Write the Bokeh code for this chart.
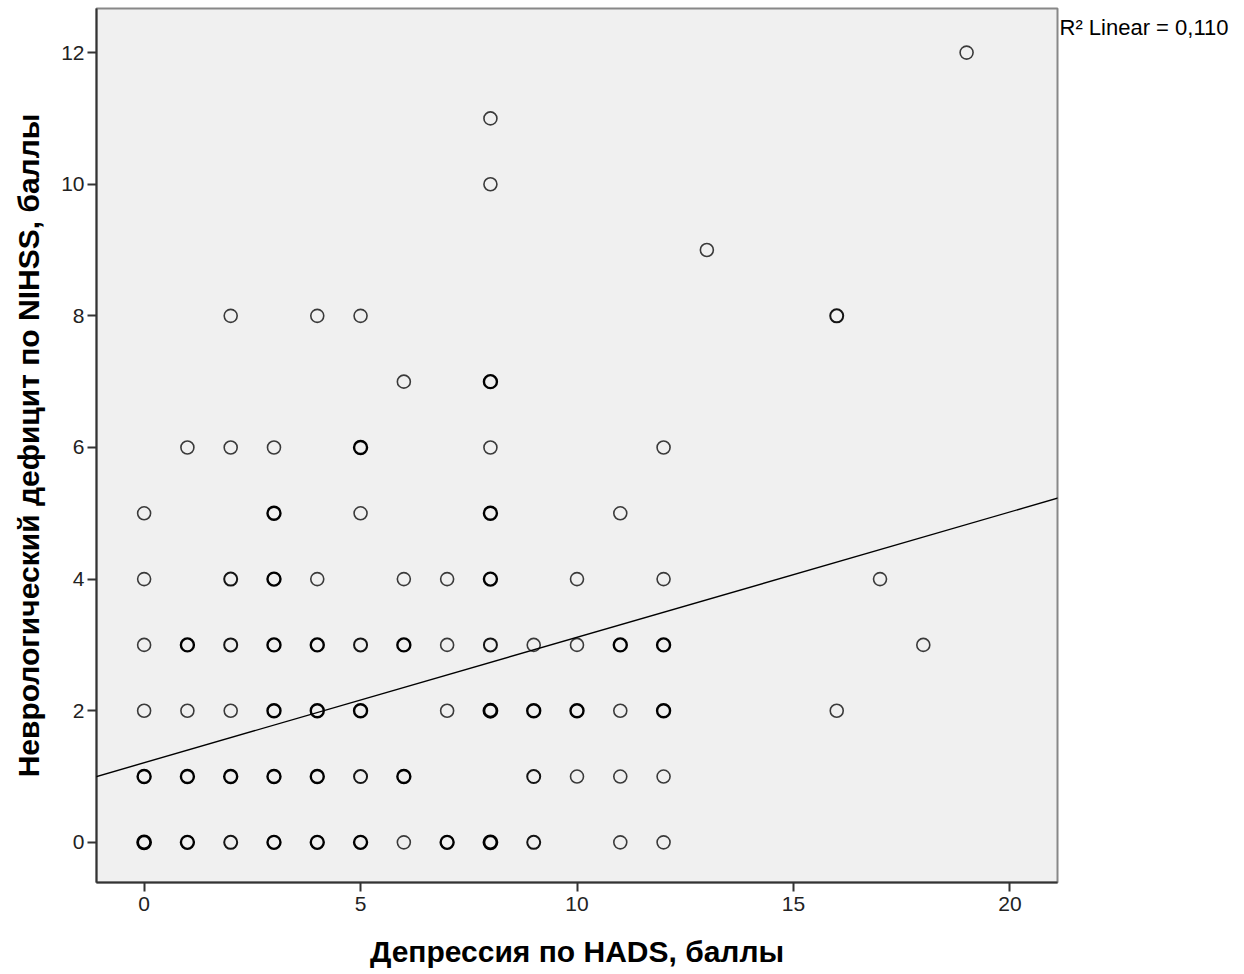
from bokeh.plotting import figure
from bokeh.models import Range1d, Label, Slope, ColumnDataSource
from bokeh.embed import file_html
from bokeh.resources import INLINE

# ---- data (count = overlapping cases, estimated from darkness)
hads = [0, 0, 0, 0, 0, 0,
        1, 1, 1, 1, 1,
        2, 2, 2, 2, 2, 2, 2,
        3, 3, 3, 3, 3, 3, 3,
        4, 4, 4, 4, 4, 4,
        5, 5, 5, 5, 5, 5, 5,
        6, 6, 6, 6, 6,
        7, 7, 7, 7,
        8, 8, 8, 8, 8, 8, 8, 8, 8,
        9, 9, 9, 9,
        10, 10, 10, 10,
        11, 11, 11, 11, 11,
        12, 12, 12, 12, 12, 12,
        13, 16, 16, 17, 18, 19]
nihss = [0, 1, 2, 3, 4, 5,
         0, 1, 2, 3, 6,
         0, 1, 2, 3, 4, 6, 8,
         0, 1, 2, 3, 4, 5, 6,
         0, 1, 2, 3, 4, 8,
         0, 1, 2, 3, 5, 6, 8,
         0, 1, 3, 4, 7,
         0, 2, 3, 4,
         0, 2, 3, 4, 5, 6, 7, 10, 11,
         0, 1, 2, 3,
         1, 2, 3, 4,
         0, 1, 2, 3, 5,
         0, 1, 2, 3, 4, 6,
         9, 2, 8, 4, 3, 12]
count = [4, 3, 1, 1, 1, 1,
         3, 3, 1, 3, 1,
         2, 3, 1, 2, 2, 1, 1,
         3, 3, 3, 3, 3, 3, 1,
         3, 3, 3, 3, 1, 1,
         3, 2, 3, 2, 1, 3, 1,
         1, 3, 3, 1, 1,
         3, 1, 1, 1,
         4, 4, 2, 3, 3, 1, 3, 1, 1,
         2, 2, 3, 1,
         1, 3, 1, 1,
         1, 1, 1, 3, 1,
         1, 1, 3, 3, 1, 1,
         1, 1, 2, 1, 1, 1]

fit_intercept = 1.21
fit_slope = 0.1905
r2_label = "R² Linear = 0,110"

x_ticks = [0, 5, 10, 15, 20]
y_ticks = [0, 2, 4, 6, 8, 10, 12]
x_title = "Депрессия по HADS, баллы"
y_title = "Неврологический дефицит по NIHSS, баллы"

FONT = "Liberation Sans"

# style derived from overlap count
line_w = [1.6 + 0.4 * (min(c, 4) - 1) for c in count]
line_c = ["#3a3a3a" if c == 1 else ("#151515" if c == 2 else "#000000") for c in count]

src = ColumnDataSource(dict(x=hads, y=nihss, lw=line_w, lc=line_c))

p = figure(width=1244, height=974, output_backend="svg", toolbar_location=None,
           x_range=Range1d(-1.1, 21.1), y_range=Range1d(-0.61, 12.67),
           min_border_left=96, min_border_right=187, min_border_top=8, min_border_bottom=92)

p.background_fill_color = "#F0F0F0"
p.border_fill_color = "white"
p.outline_line_color = "#888888"
p.outline_line_width = 2
p.xgrid.visible = False
p.ygrid.visible = False

p.scatter("x", "y", source=src, marker="circle", size=13, fill_alpha=0,
          line_color="lc", line_width="lw")

p.add_layout(Slope(gradient=fit_slope, y_intercept=fit_intercept,
                   line_color="black", line_width=1.4))

for ax, ticks in ((p.xaxis[0], x_ticks), (p.yaxis[0], y_ticks)):
    ax.ticker = ticks
    ax.axis_line_color = "#333333"
    ax.axis_line_width = 2
    ax.major_tick_line_color = "#333333"
    ax.major_tick_line_width = 2
    ax.major_tick_out = 9
    ax.major_tick_in = 0
    ax.minor_tick_out = 0
    ax.minor_tick_in = 0
    ax.major_label_standoff = 3
    ax.major_label_text_font = FONT
    ax.major_label_text_font_size = "21px"
    ax.major_label_text_color = "#222222"
    ax.axis_label_text_font = FONT
    ax.axis_label_text_font_style = "bold"
    ax.axis_label_text_font_size = "30px"
    ax.axis_label_text_color = "black"

p.xaxis.major_label_standoff = 5
p.xaxis.axis_label = x_title
p.yaxis.axis_label = y_title
p.xaxis.axis_label_standoff = 21
p.yaxis.axis_label_standoff = 13

# R² annotation in the right side panel, next to the frame's top-right corner
p.add_layout(Label(x=2, y=868, x_units="screen", y_units="screen", text=r2_label,
                   text_font=FONT, text_font_size="22px", text_color="black",
                   text_baseline="top", text_align="left"), "right")

open("out.html", "w").write(file_html(p, INLINE))
